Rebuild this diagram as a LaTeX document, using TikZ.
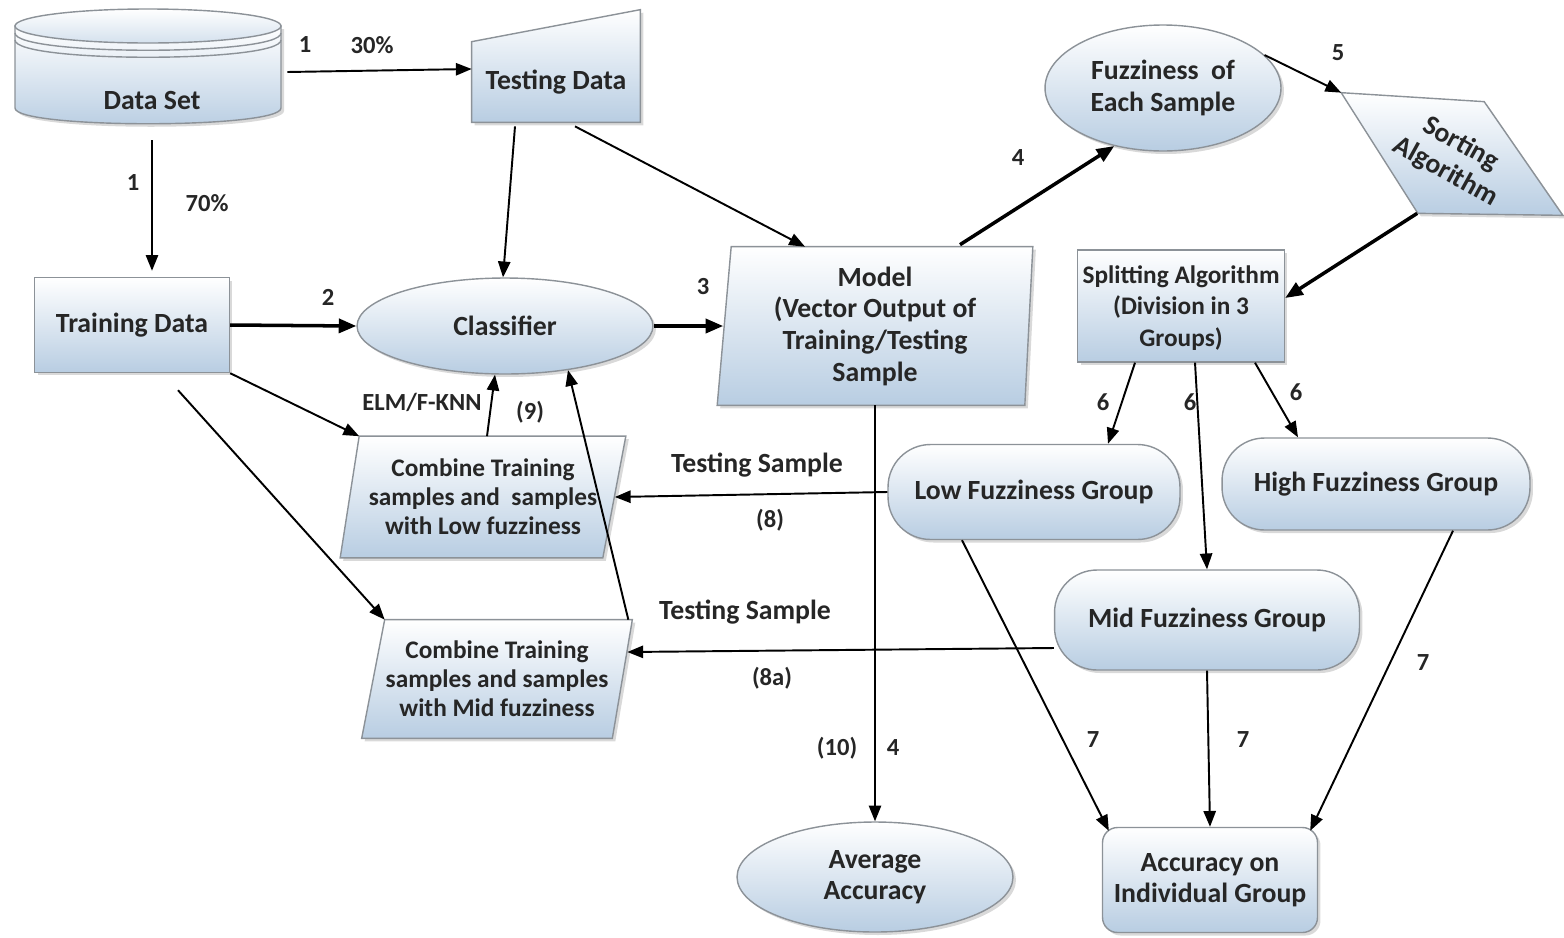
\documentclass[tikz,border=0pt]{standalone}
\usepackage{fontspec}
\setmainfont{Carlito}
\usetikzlibrary{positioning,arrows.meta,calc,shadows,backgrounds,shapes.geometric}

\definecolor{boxblue}{RGB}{184,205,226}
\definecolor{edgegray}{RGB}{140,146,152}

\tikzset{
	every node/.style={font=\fontsize{14}{17.5}\selectfont\bfseries, text=black!85},
	big/.style={font=\fontsize{15.8}{18}\selectfont\bfseries},
	small/.style={font=\fontsize{14.4}{16.6}\selectfont\bfseries},
	box/.style={draw=edgegray, line width=0.8pt, top color=white, bottom color=boxblue,
		drop shadow={shadow xshift=0.06cm,shadow yshift=-0.06cm,opacity=0.3}},
	holder/.style={inner sep=0pt, align=center, big},
	rbox/.style={box, rectangle, holder},
	ebox/.style={box, ellipse, holder},
	pill/.style={box, rectangle, rounded corners=0.85cm, holder},
	arr/.style={-{Triangle[length=9pt,width=7pt]}, line width=1.1pt},
	tarr/.style={-{Triangle[length=10pt,width=8pt]}, line width=2pt},
	lbl/.style={inner sep=1pt}
}

\begin{document}
\begin{tikzpicture}[x=0.02cm,y=-0.02cm]
	\useasboundingbox (0,0) rectangle (1564,937);

	% nodes
	\node [holder, minimum width=5.32cm, minimum height=2.32cm] (ds) at (148,66) {};
	\node [big] (dslbl) at (152,100) {Data Set};
	\node [holder, minimum width=3.36cm, minimum height=1.6cm] (tst) at (556,82) {Testing Data};
	\node [rbox, minimum width=3.9cm, minimum height=1.9cm] (trn) at (132,325) {Training Data};
	\node [ebox, minimum width=5.92cm, minimum height=1.92cm] (clf) at (505,326) {Classifier};
	\node [holder, minimum width=6.3cm, minimum height=3.16cm] (mdl) at (875,326) {Model\\(Vector Output of\\Training/Testing\\Sample};
	\node [ebox, minimum width=4.72cm, minimum height=2.52cm] (fuz) at (1163,88) {Fuzziness\ \ of\\Each Sample};
	\node [holder, minimum width=4.42cm, minimum height=2.44cm] (srt) at (1452,154) {};
	\node [rotate=-29, align=center, big] (srtlbl) at (1453,158) {Sorting\\Algorithm};
	\node [rbox, text depth=0pt, minimum width=4.14cm, minimum height=2.24cm, font=\fontsize{14.4}{18}\selectfont\bfseries] (spl) at (1181,306) {Splitting Algorithm\\(Division in 3\\Groups)};
	\node [pill, minimum width=5.84cm, minimum height=1.9cm] (low) at (1034,492) {Low Fuzziness Group};
	\node [pill, minimum width=6.16cm, minimum height=1.84cm] (high) at (1376,484) {High Fuzziness Group};
	\node [pill, minimum width=6.1cm, minimum height=2cm] (mid) at (1207,620) {Mid Fuzziness Group};
	\node [holder, small, minimum width=5.7cm, minimum height=2.42cm] (cmbl) at (483,497) {Combine Training\\samples and\ \ samples\\with Low fuzziness};
	\node [holder, small, minimum width=5.4cm, minimum height=2.36cm] (cmbm) at (497,679) {Combine Training\\samples and samples\\with Mid fuzziness};
	\node [ebox, minimum width=5.52cm, minimum height=2.2cm] (avg) at (875,877) {Average\\Accuracy};
	\node [rbox, rounded corners=0.3cm, minimum width=4.3cm, minimum height=2.1cm] (acc) at (1210,880) {Accuracy on\\Individual Group};

	% slanted shapes and the data set drum
	\begin{scope}[on background layer]
		\draw [box] (tst.south west) -- (tst.north west) -- ($(tst.north east)+(0,-32)$) -- (tst.south east) -- cycle;
		\draw [box] ($(mdl.north west)+(14,0)$) -- (mdl.north east) -- ($(mdl.south east)+(-8,0)$) -- (mdl.south west) -- cycle;
		\draw [box] (srt.north west) -- ++(143,9) -- (srt.south east) -- ++(-145,-2) -- cycle;
		\draw [box] ($(cmbl.north west)+(19,0)$) -- (cmbl.north east) -- ($(cmbl.south east)+(-23,0)$) -- (cmbl.south west) -- cycle;
		\draw [box] ($(cmbm.north west)+(23,0)$) -- (cmbm.north east) -- ($(cmbm.south east)+(-20,0)$) -- (cmbm.south west) -- cycle;

		\draw [box] (15,26) -- (15,108) .. controls (15,129) and (281,129) .. (281,108) -- (281,26) -- cycle;
		\draw [draw=edgegray, line width=0.8pt, top color=white, bottom color=boxblue!60] (148,26) ellipse [x radius=133, y radius=17];
		\draw [edgegray, line width=0.8pt] (15,33) .. controls (15,56) and (281,56) .. (281,33);
		\draw [edgegray, line width=0.8pt] (15,40) .. controls (15,63) and (281,63) .. (281,40);
	\end{scope}

	% connectors
	\draw [arr] ($(ds.east)+(6,6)$) -- ($(tst.west)+(0,-13)$);
	\draw [arr] ($(ds.south)+(4,16)$) -- ($(trn.north)+(20,-6)$);
	\draw [arr] ($(tst.south)+(-41,4)$) -- ($(clf.north)+(-2,0)$);
	\draw [arr] ($(tst.south)+(19,4)$) -- ($(mdl.north)+(-70,0)$);
	\draw [tarr] (trn.east) -- (clf.west);
	\draw [tarr] (clf.east) -- ($(mdl.west)+(6,0)$);
	\draw [tarr] ($(mdl.north)+(85,-2)$) -- (fuz.-130);
	\draw [arr] (fuz.18) -- (srt.north west);
	\draw [tarr] ($(srt.south west)+(76,-2)$) -- ($(spl.east)+(0,-8)$);
	\draw [arr] ($(spl.south)+(-46,0)$) -- ($(low.north)+(74,0)$);
	\draw [arr] ($(spl.south)+(14,0)$) -- (mid.north);
	\draw [arr] ($(spl.south)+(74,0)$) -- ($(high.north)+(-78,0)$);
	\draw [arr] (low.west) -- ($(cmbl.east)+(-11,0)$);
	\draw [arr] ($(mid.west)+(0,28)$) -- ($(cmbm.east)+(-5,-27)$);
	\draw [arr] ($(cmbl.north)+(4,0)$) -- ($(clf.south)+(-10,0)$);
	\draw [arr] ($(cmbm.north east)+(-4,0)$) -- (clf.-35);
	\draw [arr] (trn.south east) -- ($(cmbl.north west)+(19,0)$);
	\draw [arr] ($(trn.south)+(46,17)$) -- ($(cmbm.north west)+(23,0)$);
	\draw [arr] (mdl.south) -- (avg.north);
	\draw [arr] ($(low.south)+(-72,0)$) -- ($(acc.north west)+(7,4)$);
	\draw [arr] (mid.south) -- (acc.north);
	\draw [arr] ($(high.south)+(77,0)$) -- ($(acc.north east)+(-8,4)$);

	% step labels
	\node [lbl] (l1a) at (305,45) {1};
	\node [lbl] (l30) at (372,45) {30\%};
	\node [lbl] (l1b) at (133,183) {1};
	\node [lbl] (l70) at (207,203) {70\%};
	\node [lbl] (l2) at (328,297) {2};
	\node [lbl] (l3) at (703,287) {3};
	\node [lbl] (l4a) at (1018,158) {4};
	\node [lbl] (l5) at (1338,53) {5};
	\node [lbl] (l6a) at (1103,402) {6};
	\node [lbl] (l6b) at (1190,402) {6};
	\node [lbl] (l6c) at (1296,392) {6};
	\node [lbl, big] (ts1) at (757,465) {Testing Sample};
	\node [lbl] (l8) at (770,520) {(8)};
	\node [lbl, big] (ts2) at (745,612) {Testing Sample};
	\node [lbl] (l8a) at (772,678) {(8a)};
	\node [lbl] (elm) at (422,402) {ELM/F-KNN};
	\node [lbl] (l9) at (530,412) {(9)};
	\node [lbl] (l10) at (837,748) {(10)};
	\node [lbl] (l4b) at (893,748) {4};
	\node [lbl] (l7a) at (1093,740) {7};
	\node [lbl] (l7b) at (1243,740) {7};
	\node [lbl] (l7c) at (1423,663) {7};
\end{tikzpicture}
\end{document}
